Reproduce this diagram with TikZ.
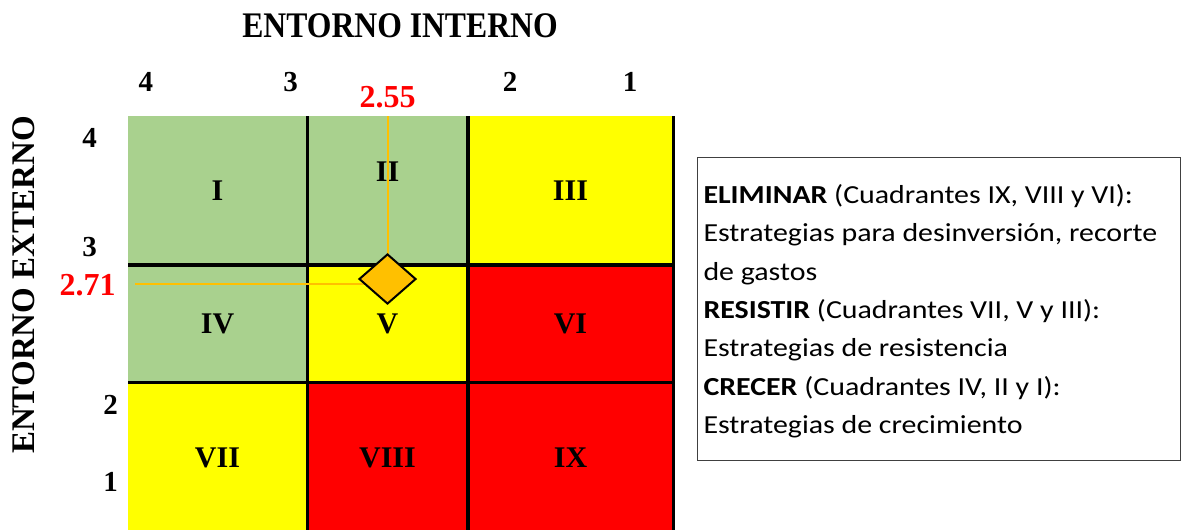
\documentclass[tikz,border=0pt]{standalone}
\usepackage{fontspec}
\setmainfont{Liberation Serif}
\newfontfamily\legendfont[FakeStretch=1.15]{Carlito}
\usetikzlibrary{shapes.geometric,positioning}
\definecolor{cellgreen}{HTML}{A9D18E}
\definecolor{cellyellow}{HTML}{FFFF00}
\definecolor{cellred}{HTML}{FF0000}
\definecolor{markgold}{HTML}{FFC000}
\definecolor{legendgray}{HTML}{404040}
\tikzset {
  every node/.style={inner sep=0pt, font=\bfseries},
  cellnum/.style={font=\fontsize{30}{30}\selectfont\bfseries},
  ticknum/.style={font=\fontsize{29}{29}\selectfont\bfseries},
  valnum/.style={font=\fontsize{32}{32}\selectfont\bfseries, text=cellred},
  gridline/.style={line width=3.2pt},
  guide/.style={markgold, line width=2pt},
}

\begin{document}
\begin{tikzpicture}[x=1pt,y=-1pt]
  \useasboundingbox (0,0) rectangle (1183,530);
  \foreach \xa/\xb/\ya/\yb/\c in {
      128/307.5/116/265/cellgreen, 307.5/468/116/265/cellgreen, 468/673.5/116/265/cellyellow,
      128/307.5/265/382.5/cellgreen, 307.5/468/265/382.5/cellyellow, 468/673.5/265/382.5/cellred,
      128/307.5/382.5/530/cellyellow, 307.5/468/382.5/530/cellred, 468/673.5/382.5/530/cellred}
    \fill[\c] (\xa,\ya) rectangle (\xb,\yb);
  \foreach \x in {307.5,468,673.5}
    \draw[gridline] (\x,116) -- (\x,530);
  \foreach \y in {265,382.5}
    \draw[gridline] (128,\y) -- (673.5,\y);

  \node[cellnum] (q1) at (217.5,190.5) {I};
  \node[cellnum] (q2) at (387.5,172) {II};
  \node[cellnum] (q3) at (570.5,190.5) {III};
  \node[cellnum] (q4) at (217.5,324) {IV};
  \node[cellnum] (q5) at (387.5,324) {V};
  \node[cellnum] (q6) at (570.5,324) {VI};
  \node[cellnum] (q7) at (217.5,458) {VII};
  \node[cellnum] (q8) at (387.5,458) {VIII};
  \node[cellnum] (q9) at (570.5,458) {IX};

  \coordinate (markpos) at (387.5,279);
  \coordinate (guidetop) at (387.5,116);
  \coordinate (guideleft) at (135,284);
  \draw[guide] (guidetop) -- (markpos);
  \draw[guide] (guideleft) -- (guideleft -| markpos);
  \node[diamond, draw, line width=2pt, fill=markgold, minimum width=57pt, minimum height=50pt] (mark) at (markpos) {};

  \node[font=\fontsize{36}{36}\selectfont\bfseries] (titlein) at (400,25.3) {\scalebox{0.88}[1]{ENTORNO INTERNO}};
  \node[font=\fontsize{33}{33}\selectfont\bfseries, rotate=90] (titleex) at (24,285) {ENTORNO EXTERNO};

  \node[ticknum] (in4) at (145.8,82) {4};
  \node[ticknum] (in3) at (290.5,82) {3};
  \node[ticknum] (in2) at (510,82) {2};
  \node[ticknum] (in1) at (630,82) {1};
  \node[ticknum] (ex4) at (89.5,137.5) {4};
  \node[ticknum] (ex3) at (89.5,247.5) {3};
  \node[ticknum] (ex2) at (110.5,405) {2};
  \node[ticknum] (ex1) at (110.5,482) {1};
  \node[valnum] (valin) at (387.5,97.5) {2.55};
  \node[valnum] (valex) at (87.5,285.5) {2.71};

  \node[draw=legendgray, line width=1.2pt, minimum width=483pt, minimum height=303pt, anchor=north west] (legend) at (697,157) {};
  \node[font=\legendfont\fontsize{26}{38.4}\selectfont, align=left, anchor=base west] (legendtext) at (703.3,433.7) {%
    \textbf{ELIMINAR} (Cuadrantes IX, VIII y VI):\\
    Estrategias para desinversión, recorte\\
    de gastos\\
    \textbf{RESISTIR} (Cuadrantes VII, V y III):\\
    Estrategias de resistencia\\
    \textbf{CRECER} (Cuadrantes IV, II y I):\\
    Estrategias de crecimiento};
\end{tikzpicture}
\end{document}
